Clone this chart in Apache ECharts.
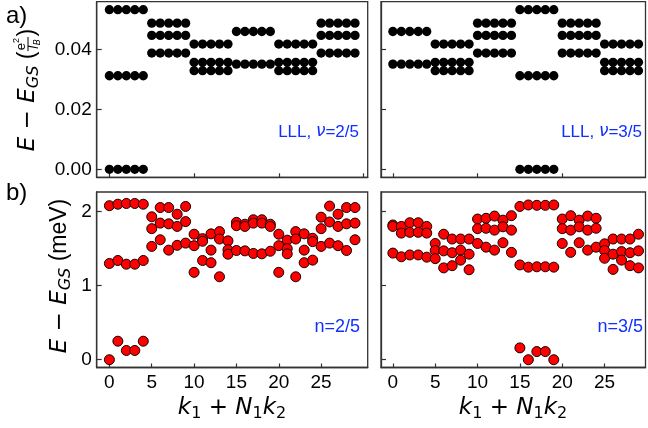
<!DOCTYPE html>
<html><head><meta charset="utf-8">
<script src="https://cdn.jsdelivr.net/npm/echarts@6/dist/echarts.min.js"></script>
<style>html,body{margin:0;padding:0;background:#fff}#c{width:648px;height:428px}</style>
</head><body><div id="c"></div>
<script>
// ---------- data ----------
const kValues = [0,1,2,3,4,5,6,7,8,9,10,11,12,13,14,15,16,17,18,19,20,21,22,23,24,25,26,27,28,29];
const xTicksTop = [0,10,20,30];
const xTicksBottom = [0,5,10,15,20,25];
const yTicksTop = [0,0.02,0.04];
const yTicksBottom = [0,1,2];

// LLL, nu=2/5 : energies (e^2/l_B) per momentum sector
const lll25 = [
 [0.0534,0.0313,0.0],[0.0534,0.0313,0.0],[0.0534,0.0313,0.0],[0.0534,0.0313,0.0],[0.0534,0.0313,0.0],
 [0.0489,0.0448,0.0389],[0.0489,0.0448,0.0389],[0.0489,0.0448,0.0389],[0.0489,0.0448,0.0389],[0.0489,0.0448,0.0389],
 [0.0419,0.0358,0.0330],[0.0419,0.0358,0.0330],[0.0419,0.0358,0.0330],[0.0419,0.0358,0.0330],[0.0419,0.0358,0.0330],
 [0.0461,0.0352],[0.0461,0.0352],[0.0461,0.0352],[0.0461,0.0352],[0.0461,0.0352],
 [0.0419,0.0358,0.0330],[0.0419,0.0358,0.0330],[0.0419,0.0358,0.0330],[0.0419,0.0358,0.0330],[0.0419,0.0358,0.0330],
 [0.0489,0.0448,0.0389],[0.0489,0.0448,0.0389],[0.0489,0.0448,0.0389],[0.0489,0.0448,0.0389],[0.0489,0.0448,0.0389]
];
// LLL, nu=3/5
const lll35 = [
 [0.0461,0.0352],[0.0461,0.0352],[0.0461,0.0352],[0.0461,0.0352],[0.0461,0.0352],
 [0.0419,0.0358,0.0330],[0.0419,0.0358,0.0330],[0.0419,0.0358,0.0330],[0.0419,0.0358,0.0330],[0.0419,0.0358,0.0330],
 [0.0489,0.0448,0.0389],[0.0489,0.0448,0.0389],[0.0489,0.0448,0.0389],[0.0489,0.0448,0.0389],[0.0489,0.0448,0.0389],
 [0.0534,0.0313,0.0],[0.0534,0.0313,0.0],[0.0534,0.0313,0.0],[0.0534,0.0313,0.0],[0.0534,0.0313,0.0],
 [0.0489,0.0448,0.0389],[0.0489,0.0448,0.0389],[0.0489,0.0448,0.0389],[0.0489,0.0448,0.0389],[0.0489,0.0448,0.0389],
 [0.0419,0.0358,0.0330],[0.0419,0.0358,0.0330],[0.0419,0.0358,0.0330],[0.0419,0.0358,0.0330],[0.0419,0.0358,0.0330]
];
// n=2/5 : energies (meV)
const band25 = [
 [2.08,1.30,0.0],[2.10,1.34,0.25],[2.11,1.29,0.125],[2.11,1.29,0.125],[2.10,1.34,0.25],
 [1.93,1.77,1.53],[2.055,1.845,1.62],[2.055,1.835,1.48],[1.965,1.80,1.545],[2.07,1.865,1.575],
 [1.695,1.54,1.18],[1.635,1.60,1.34],[1.70,1.48,1.31],[1.73,1.63,1.12],[1.605,1.485,1.425],
 [1.855,1.81,1.475],[1.83,1.80,1.47],[1.89,1.845,1.435],[1.89,1.845,1.43],[1.83,1.80,1.465],
 [1.695,1.54,1.18],[1.615,1.50,1.43],[1.73,1.63,1.12],[1.70,1.48,1.31],[1.64,1.595,1.345],
 [1.925,1.77,1.53],[2.075,1.86,1.575],[1.965,1.80,1.54],[2.055,1.835,1.475],[2.055,1.845,1.62]
];
// n=3/5
const band35 = [
 [1.82,1.80,1.44],[1.80,1.71,1.39],[1.85,1.72,1.415],[1.85,1.72,1.415],[1.80,1.71,1.385],
 [1.57,1.475,1.365],[1.695,1.47,1.24],[1.63,1.445,1.27],[1.63,1.48,1.345],[1.63,1.425,1.215],
 [1.90,1.77,1.57],[1.91,1.775,1.52],[1.94,1.75,1.48],[1.885,1.795,1.58],[1.945,1.75,1.45],
 [2.07,1.28,0.16],[2.09,1.25,0.0],[2.085,1.255,0.11],[2.085,1.255,0.11],[2.09,1.25,0.0],
 [1.90,1.77,1.57],[1.945,1.75,1.45],[1.885,1.795,1.58],[1.94,1.75,1.48],[1.91,1.775,1.52],
 [1.565,1.475,1.37],[1.63,1.425,1.22],[1.63,1.46,1.345],[1.63,1.445,1.27],[1.695,1.47,1.24]
];

// ---------- build ----------
function pts(levels){ const out=[]; levels.forEach((lv,i)=>lv.forEach(e=>out.push([kValues[i],e]))); return out; }

const AX='#333', TICK_FONT='Liberation Sans', MATH='DejaVu Sans';
const grids = [
 {left:96.7, top:1.7, width:271, height:175.6},
 {left:381, top:1.7, width:264.5, height:175.6},
 {left:96.7, top:192, width:271, height:175.5},
 {left:381, top:192, width:264.5, height:175.5}
].map(g=>Object.assign({show:true, borderColor:AX, borderWidth:1.3, backgroundColor:'transparent'}, g));

function xAx(i, min, max, ticks, showLabel){
 return {type:'value', gridIndex:i, min, max, position:'bottom',
  axisLine:{show:true, onZero:false, lineStyle:{color:AX, width:1.3}},
  axisTick:{show:true, inside:true, length:4, customValues:ticks, lineStyle:{color:AX, width:1.2}},
  axisLabel:{show:showLabel, customValues:ticks, margin:6, color:'#000', fontFamily:TICK_FONT, fontSize:19},
  splitLine:{show:false}};
}
function yAx(i, min, max, ticks, showLabel, fmt){
 return {type:'value', gridIndex:i, min, max, position:'left',
  axisLine:{show:true, onZero:false, lineStyle:{color:AX, width:1.3}},
  axisTick:{show:true, inside:true, length:5, customValues:ticks, lineStyle:{color:AX, width:1.2}},
  axisLabel:{show:showLabel, customValues:ticks, margin:5, color:'#000', fontFamily:TICK_FONT, fontSize:19, formatter:fmt},
  splitLine:{show:false}};
}
const topY=[-0.00267,0.05607], botY=[-0.105,2.265];
const xAxes=[ xAx(0,-1.5,30.5,xTicksTop,false), xAx(1,-1.4,29.83,xTicksTop,false),
 xAx(2,-1.5,30.5,xTicksBottom,true), xAx(3,-1.4,29.83,xTicksBottom,true)];
const yAxes=[ yAx(0,topY[0],topY[1],yTicksTop,true,v=>v.toFixed(2)), yAx(1,topY[0],topY[1],yTicksTop,false),
 yAx(2,botY[0],botY[1],yTicksBottom,true,v=>String(v)), yAx(3,botY[0],botY[1],yTicksBottom,false)];

function sc(i, levels, red){
 return {type:'scatter', xAxisIndex:i, yAxisIndex:i, data:pts(levels), symbol:'circle',
  symbolSize: red?10:9.3, silent:true, animation:false,
  itemStyle: red?{color:'#ff0000', borderColor:'#140000', borderWidth:1, opacity:1}:{color:'#000', opacity:1}};
}

// ---------- math-like text ----------
const cv=document.createElement('canvas').getContext('2d');
function tw(t,f){cv.font=f;return cv.measureText(t).width;}
function mathLabel(pieces, px, py, rot, anchor){
 let x=0; const ch=[];
 pieces.forEach(p=>{
  if(p.frac){
   const nf='13px '+TICK_FONT, sf='9px '+TICK_FONT, lf='italic 13px '+MATH;
   const wn=tw('e',nf)+tw('2',sf), wd=tw('l',lf)+tw('B','italic 9px '+MATH);
   const w=Math.max(wn,wd)+3;
   const cx=x+w/2;
   ch.push({type:'text', x:cx-wn/2, y:-7, style:{text:'e', font:nf, fill:'#000', align:'left', verticalAlign:'middle', textAlign:'left', textVerticalAlign:'middle'}});
   ch.push({type:'text', x:cx-wn/2+tw('e',nf), y:-11, style:{text:'2', font:sf, fill:'#000', align:'left', verticalAlign:'middle', textAlign:'left', textVerticalAlign:'middle'}});
   ch.push({type:'line', shape:{x1:x+0.5, y1:0, x2:x+w-0.5, y2:0}, style:{stroke:'#000', lineWidth:1}});
   ch.push({type:'text', x:cx-wd/2, y:7, style:{text:'l', font:lf, fill:'#000', align:'left', verticalAlign:'middle', textAlign:'left', textVerticalAlign:'middle'}});
   ch.push({type:'text', x:cx-wd/2+tw('l',lf), y:10, style:{text:'B', font:'italic 9px '+MATH, fill:'#000', align:'left', verticalAlign:'middle', textAlign:'left', textVerticalAlign:'middle'}});
   x+=w; return;
  }
  const w=tw(p.t,p.f);
  ch.push({type:'text', x:x, y:p.dy||0, style:{text:p.t, font:p.f, fill:p.c||'#000', align:'left', verticalAlign:'middle', textAlign:'left', textVerticalAlign:'middle'}});
  x+=w;
 });
 const shift = anchor==='right' ? -x : -x/2;
 ch.forEach(c=>{ if(c.type==='line'){c.shape.x1+=shift;c.shape.x2+=shift;} else c.x+=shift; });
 return {type:'group', x:px, y:py, rotation:rot||0, children:ch, silent:true};
}
const it23='italic 23px '+MATH, up23='23px '+MATH, sub16='italic 16px '+MATH, ar23='23px '+TICK_FONT;
const kTitle=[{t:'k',f:it23},{t:'1',f:'16px '+MATH,dy:6},{t:' + ',f:up23},{t:'N',f:it23},{t:'1',f:'16px '+MATH,dy:6},{t:'k',f:it23},{t:'2',f:'16px '+MATH,dy:6}];
const yTop=[{t:'E',f:it23},{t:' − ',f:up23},{t:'E',f:it23},{t:'GS',f:sub16,dy:6},{t:' (',f:ar23},{frac:true},{t:')',f:ar23}];
const yBot=[{t:'E',f:it23},{t:' − ',f:up23},{t:'E',f:it23},{t:'GS',f:sub16,dy:6},{t:' (meV)',f:ar23}];
const BLUE='#1030ff';
const lab=(s)=>[{t:'LLL, ',f:'17px '+TICK_FONT,c:BLUE},{t:'ν',f:'italic 17px '+MATH,c:BLUE},{t:'='+s,f:'17px '+TICK_FONT,c:BLUE}];
const nlab=s=>[{t:'n='+s,f:'18px '+TICK_FONT,c:BLUE}];

const graphics=[
 mathLabel(kTitle, 232, 408, 0),
 mathLabel(kTitle, 513, 408, 0),
 mathLabel(yTop, 28, 90, Math.PI/2),
 mathLabel(yBot, 60, 276, Math.PI/2),
 mathLabel(lab('2/5'), 359, 132, 0, 'right'),
 mathLabel(lab('3/5'), 642, 132, 0, 'right'),
 mathLabel(nlab('2/5'), 360, 327, 0, 'right'),
 mathLabel(nlab('3/5'), 643, 327, 0, 'right'),
 {type:'text', x:6, y:16, style:{text:'a)', font:'24px '+TICK_FONT, fill:'#000', align:'left', verticalAlign:'middle', textAlign:'left', textVerticalAlign:'middle'}},
 {type:'text', x:6, y:193, style:{text:'b)', font:'24px '+TICK_FONT, fill:'#000', align:'left', verticalAlign:'middle', textAlign:'left', textVerticalAlign:'middle'}}
];

const chart=echarts.init(document.getElementById('c'),null,{renderer:'canvas'});
chart.setOption({
 animation:false, backgroundColor:'#fff',
 grid:grids, xAxis:xAxes, yAxis:yAxes,
 series:[sc(0,lll25,false), sc(1,lll35,false), sc(2,band25,true), sc(3,band35,true)],
 graphic:graphics
});
</script></body></html>
